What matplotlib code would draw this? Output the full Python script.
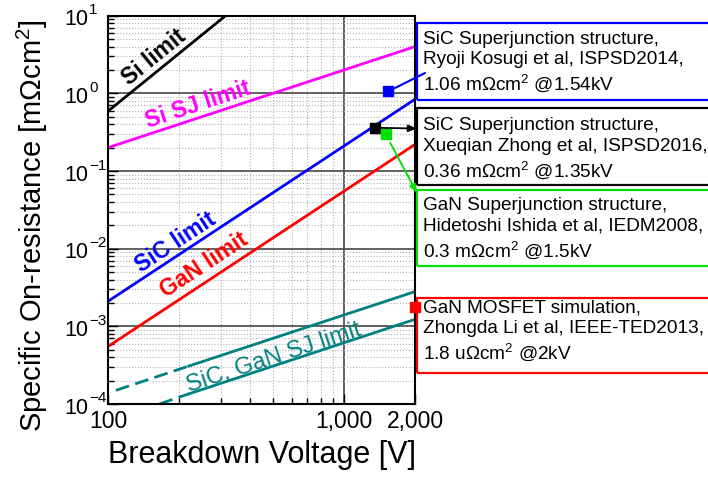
import numpy as np
import matplotlib
matplotlib.use('Agg')
import matplotlib.pyplot as plt
from matplotlib.patches import Rectangle
from matplotlib.ticker import FixedLocator, LogLocator, NullFormatter
import matplotlib.transforms as mtrans

plt.rcParams['font.family'] = ['Liberation Sans', 'DejaVu Sans']
plt.rcParams['mathtext.fontset'] = 'custom'
plt.rcParams['mathtext.rm'] = 'Liberation Sans'
plt.rcParams['mathtext.it'] = 'Liberation Sans:italic'
plt.rcParams['mathtext.bf'] = 'Liberation Sans:bold'
plt.rcParams['mathtext.default'] = 'regular'

# ---------------- data ----------------
si_v = [100, 315]
si_r = [0.59, 10.0]
sisj_v = [100, 2000]
sisj_r = [0.20, 4.0]
sic_v = [100, 2000]
sic_r = [0.0021, 0.84]
gan_v = [100, 2000]
gan_r = [0.00055, 0.22]
wsj_hi_dash_v = [108, 220]
wsj_hi_dash_r = [1.5e-4, 3.08e-4]
wsj_hi_v = [220, 2000]
wsj_hi_r = [3.08e-4, 2.8e-3]
wsj_lo_dash_v = [165, 220]
wsj_lo_dash_r = [1.0e-4, 1.35e-4]
wsj_lo_v = [220, 2000]
wsj_lo_r = [1.35e-4, 1.23e-3]

dev_v = [1540, 1350, 1500, 2000]
dev_r = [1.06, 0.36, 0.30, 0.0018]

x_ticks = [100, 1000, 2000]
x_ticklabels = ['100', '1,000', '2,000']
y_decades = [1e-4, 1e-3, 1e-2, 1e-1, 1e0, 1e1]
y_exponents = ['\u22124', '\u22123', '\u22122', '\u22121', '0', '1']

box_texts = [
    "SiC Superjunction structure,\nRyoji Kosugi et al, ISPSD2014,\n1.06 m\u03a9cm$^2$ @1.54kV",
    "SiC Superjunction structure,\nXueqian Zhong et al, ISPSD2016,\n0.36 m\u03a9cm$^2$ @1.35kV",
    "GaN Superjunction structure,\nHidetoshi Ishida et al, IEDM2008,\n0.3 m\u03a9cm$^2$ @1.5kV",
    "GaN MOSFET simulation,\nZhongda Li et al, IEEE-TED2013,\n1.8 u\u03a9cm$^2$ @2kV",
]

BLUE = '#0000ff'
RED = '#ff0000'
MAG = '#ff00ff'
TEAL = '#008080'
GREEN = '#00e000'
dev_colors = [BLUE, 'black', GREEN, RED]
box_colors = [BLUE, 'black', GREEN, RED]

# ---------------- figure ----------------
W, H = 708, 478
fig = plt.figure(figsize=(W / 100, H / 100), dpi=100)
L, R, T, B = 108, 415, 15.7, 404
ax = fig.add_axes([L / W, 1 - B / H, (R - L) / W, (B - T) / H])
ax.set_xscale('log')
ax.set_yscale('log')
ax.set_xlim(100, 2000)
ax.set_ylim(1e-4, 10)


def fpx(x, y):
    return (x / W, 1 - y / H)


# grid
ax.set_axisbelow(True)
ax.xaxis.set_major_locator(FixedLocator(x_ticks))
ax.set_xticklabels(x_ticklabels)
ax.xaxis.set_minor_locator(FixedLocator([200, 300, 400, 500, 600, 700, 800, 900]))
ax.xaxis.set_minor_formatter(NullFormatter())
ax.yaxis.set_major_locator(FixedLocator(y_decades))
ax.yaxis.set_minor_locator(LogLocator(base=10, subs=np.arange(2, 10), numticks=20))
ax.yaxis.set_minor_formatter(NullFormatter())
ax.grid(which='major', color='#555555', lw=1.3, ls='-')
ax.grid(which='minor', color='#b0b0b0', lw=0.8, ls=':')
ax.tick_params(which='both', direction='in', left=True, bottom=True, top=False, right=False,
               labelleft=False, width=1.0)
ax.tick_params(which='major', length=7, labelsize=16.5, pad=4.5)
ax.tick_params(which='minor', length=4)
for s in ax.spines.values():
    s.set_linewidth(1.5)

# y tick labels (Origin style: "10" right-aligned, exponent hanging)
ytr = mtrans.blended_transform_factory(ax.transAxes, ax.transData)
for val, ex in zip(y_decades, y_exponents):
    t1 = mtrans.offset_copy(ytr, fig=fig, x=-20, y=-9.5, units='dots')
    ax.text(0, val, '10', transform=t1, ha='right', va='baseline', fontsize=15.5, clip_on=False)
    t2 = mtrans.offset_copy(ytr, fig=fig, x=-19, y=1.5, units='dots')
    ax.text(0, val, ex, transform=t2, ha='left', va='baseline', fontsize=11, clip_on=False)

# limit lines
lw = 2.0
ax.plot(si_v, si_r, color='black', lw=lw)
ax.plot(sisj_v, sisj_r, color=MAG, lw=lw)
ax.plot(sic_v, sic_r, color=BLUE, lw=lw)
ax.plot(gan_v, gan_r, color=RED, lw=lw)
ax.plot(wsj_hi_dash_v, wsj_hi_dash_r, color=TEAL, lw=lw, ls=(0, (5, 2.3)))
ax.plot(wsj_hi_v, wsj_hi_r, color=TEAL, lw=lw)
ax.plot(wsj_lo_dash_v, wsj_lo_dash_r, color=TEAL, lw=lw, ls=(0, (5, 2.3)))
ax.plot(wsj_lo_v, wsj_lo_r, color=TEAL, lw=lw)


def angle_of(vs, rs):
    p = ax.transData.transform(np.column_stack([vs, rs]))
    return np.degrees(np.arctan2(p[1, 1] - p[0, 1], p[1, 0] - p[0, 0]))


def px_axes(x, y):
    return ((x - L) / (R - L), (B - y) / (B - T))


labels = [
    ('Si limit', (154, 57), si_v, si_r, 'black', 'bold', 16.5),
    ('Si SJ limit', (197.5, 105), sisj_v, sisj_r, MAG, 'bold', 16.5),
    ('SiC limit', (176, 242), sic_v, sic_r, BLUE, 'bold', 16.5),
    ('GaN limit', (204, 265), gan_v, gan_r, RED, 'bold', 16.5),
    ('SiC, GaN SJ limit', (274, 357.5), wsj_hi_v, wsj_hi_r, TEAL, 'normal', 17),
]
for txt, (px, py), vs, rs, c, w, fs in labels:
    ax.text(*px_axes(px, py), txt, transform=ax.transAxes, rotation=angle_of(vs, rs),
            rotation_mode='anchor', ha='center', va='center', color=c,
            fontweight=w, fontsize=fs)

# device points
for v, r, c in zip(dev_v, dev_r, dev_colors):
    ax.plot([v], [r], marker='s', ms=6.5, color=c, ls='none', clip_on=False, zorder=5)

# boxes
box_px = [(23, 100), (108, 185), (190, 266), (298, 373)]
text_cy = [62.5, 149, 229, 331]
for (top, bot), c, txt, cy in zip(box_px, box_colors, box_texts, text_cy):
    rect = Rectangle(fpx(417, bot), 1.0, (bot - top) / H, transform=fig.transFigure,
                     fill=False, ec=c, lw=1.6, clip_on=False, zorder=3)
    fig.add_artist(rect)
    fig.text(423 / W, 1 - cy / H, txt, ha='left', va='center', fontsize=13.7,
             linespacing=1.25, color='black')

# connectors
ax.annotate('', xy=fpx(425, 73), xycoords='figure fraction',
            xytext=(dev_v[0], dev_r[0]), textcoords='data',
            arrowprops=dict(arrowstyle='-', color=BLUE, lw=1.5, shrinkA=2, shrinkB=0),
            annotation_clip=False, zorder=6)
ax.annotate('', xy=fpx(417, 128.5), xycoords='figure fraction',
            xytext=(dev_v[1], dev_r[1]), textcoords='data',
            arrowprops=dict(arrowstyle='-|>,head_length=0.5,head_width=0.2', color='black',
                            lw=1.3, shrinkA=0, shrinkB=0),
            annotation_clip=False, zorder=6)
ax.annotate('', xy=fpx(417, 193), xycoords='figure fraction',
            xytext=(dev_v[2], dev_r[2]), textcoords='data',
            arrowprops=dict(arrowstyle='-|>,head_length=0.5,head_width=0.2', color=GREEN,
                            lw=1.3, shrinkA=7, shrinkB=0),
            annotation_clip=False, zorder=6)

# axis labels
fig.text(261.5 / W, 1 - 455 / H, 'Breakdown Voltage [V]', ha='center', va='center', fontsize=22)
fig.text(32 / W, 1 - 225.5 / H, 'Specific On-resistance [m\u03a9cm$^2$]', ha='center',
         va='center', rotation=90, fontsize=21)

fig.savefig('out.png', dpi=100)
